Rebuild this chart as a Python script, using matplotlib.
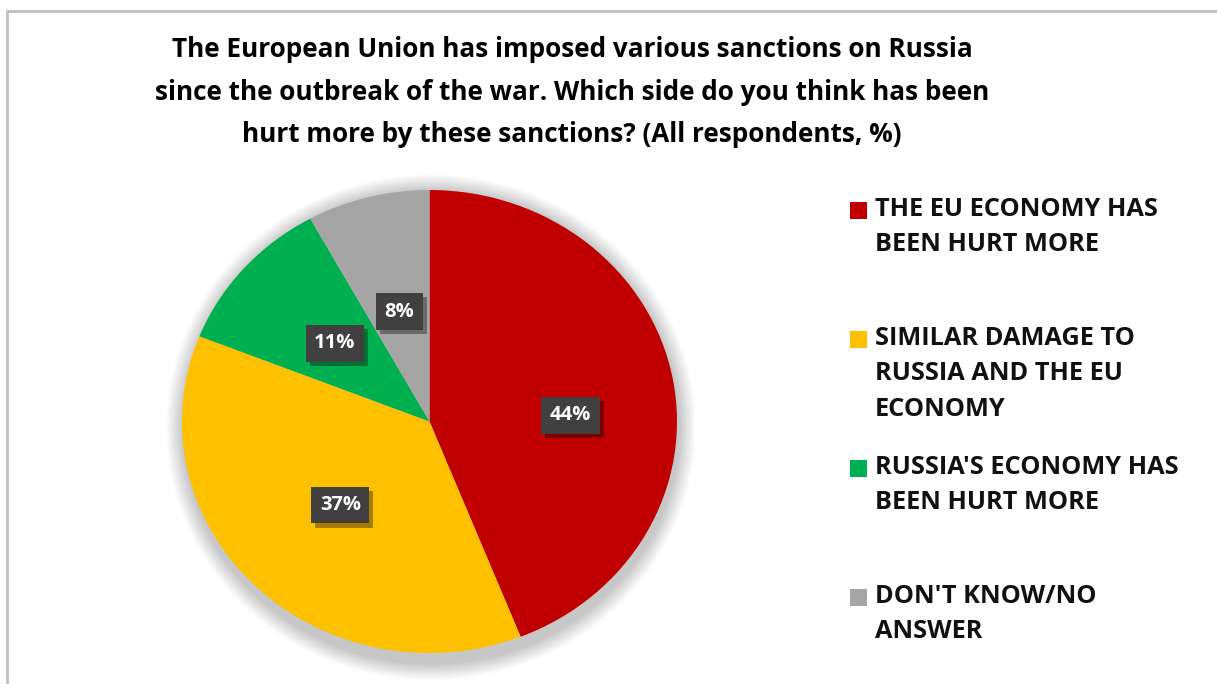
import matplotlib
matplotlib.use("Agg")
import matplotlib.pyplot as plt
from matplotlib.patches import Rectangle, Ellipse
import matplotlib.patheffects as pe
import numpy as np

plt.rcParams['font.family'] = ['Open Sans', 'DejaVu Sans']

# data
title = ("The European Union has imposed various sanctions on Russia\n"
         "since the outbreak of the war. Which side do you think has been\n"
         "hurt more by these sanctions? (All respondents, %)")
categories = ["THE EU ECONOMY HAS\nBEEN HURT MORE",
              "SIMILAR DAMAGE TO\nRUSSIA AND THE EU\nECONOMY",
              "RUSSIA'S ECONOMY HAS\nBEEN HURT MORE",
              "DON'T KNOW/NO\nANSWER"]
values = [44, 37, 11, 8]
colors = ["#C00000", "#FFC000", "#00B050", "#A5A5A5"]

W, H = 1217, 684
fig = plt.figure(figsize=(W / 100, H / 100), dpi=100)

# outer chart border (runs off right/bottom edges)
fig.patches.append(Rectangle((7 / W, -0.1), 1.2, 1 - 11 / H + 0.1,
                             transform=fig.transFigure, fill=False,
                             edgecolor="#BFBFBF", linewidth=2.0))

fig.text(572 / W, 1 - 36 / H, title, ha="center", va="top",
         fontsize=18.8, fontweight="bold", color="#000000", linespacing=1.74)

# pie area (slightly elliptical like the original)
ax = fig.add_axes([182 / W, 31 / H, 495 / W, 463 / H])
ax.axis("off")

# soft shadow around the pie
for i in range(14):
    r = 1.0 + 0.005 * (14 - i)
    ax.add_patch(Ellipse((0.006, -0.025), 2 * r, 2 * r * 1.02, color="black",
                         alpha=0.016, lw=0, zorder=0, clip_on=False))

wedges, _ = ax.pie(values, colors=colors, startangle=90, counterclock=False,
                   radius=1.0, wedgeprops=dict(linewidth=0, clip_on=False))
ax.set_aspect("auto")
ax.set_xlim(-1, 1)
ax.set_ylim(-1, 1)

# percentage labels
label_r = [0.57, 0.51, 0.51, 0.49]
label_shift = [-8, 0, 0, 0]  # degrees
for w, v, r, sh in zip(wedges, values, label_r, label_shift):
    ang = np.deg2rad((w.theta1 + w.theta2) / 2 + sh)
    x, y = r * np.cos(ang), r * np.sin(ang)
    t = ax.text(x, y, f"{v}%", ha="center", va="center", fontsize=14.5,
                fontweight="bold", color="white",
                bbox=dict(boxstyle="square,pad=0.42", fc="#404040", ec="none"))
    t.get_bbox_patch().set_path_effects(
        [pe.SimplePatchShadow(offset=(3, -3), shadow_rgbFace="black", alpha=0.35),
         pe.Normal()])

# legend drawn by hand so the marker sits on the first text line
leg_y0 = 197
leg_step = 129
for i, (lab, c) in enumerate(zip(categories, colors)):
    ytop = leg_y0 + i * leg_step
    fig.patches.append(Rectangle((850 / W, 1 - (ytop + 22) / H), 17 / W, 17 / H,
                                 transform=fig.transFigure, facecolor=c,
                                 edgecolor="none"))
    fig.text(875 / W, 1 - ytop / H, lab, ha="left", va="top", fontsize=18.3,
             fontweight="bold", color="#111111", linespacing=1.54)

fig.savefig("out.png", dpi=100, facecolor="white")
